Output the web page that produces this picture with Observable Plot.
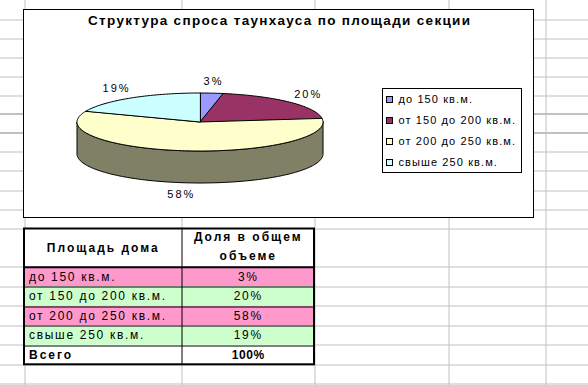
<!DOCTYPE html>
<html><head><meta charset="utf-8">
<script src="https://cdn.jsdelivr.net/npm/d3@7"></script>
<script src="https://cdn.jsdelivr.net/npm/@observablehq/plot@0.6"></script>
<style>
body{margin:0;background:#fff;}
svg{display:block;}
</style></head><body><div id="chart"></div>
<script>
// ---- data ----
const title = "Структура спроса таунхауса по площади секции";
const categories = ["до 150 кв.м.", "от 150 до 200 кв.м.", "от 200 до 250 кв.м.", "свыше 250 кв.м."];
const shares = [3, 20, 58, 19];
const tableHeader = ["Площадь дома", "Доля в общем", "объеме"];
const totalLabel = "Всего";
const totalValue = 100;

// ---- styles ----
const sliceColors = ["#9999FF", "#993366", "#FFFFCC", "#CCFFFF"];
const rowFills = ["#FF99CC", "#CCFFCC", "#FF99CC", "#CCFFCC"];
const gridColor = "#C0C0C0";
const FONT = "Liberation Sans, Arial, sans-serif";

// ---- layout ----
const W = 588, H = 385;
const gridX = [24.5, 181.5, 314.5, 448.5, 545.5];
const gridY = [19.5, 38.5, 57.5, 76.5, 95.5, 113.5, 132.5, 151.5, 170.5, 190.5, 209.5, 228.5, 266.5, 286.5, 305.5, 325.5, 344.5, 364.5, 383.5];
const gridThick = [113.5, 132.5];
const area = {x1: 23.5, x2: 533.5, y1: 9.5, y2: 217.5};
const pie = {cx: 199.5, cy: 121.5, rx: 123, ry: 29, depth: 32, lx: 12, ly: 7.5};
const legend = {x1: 382.5, x2: 521.5, y1: 88.5, y2: 172.5, step: 21.2, sw: 6, swX: 386, textX: 398};
const table = {x1: 24, xm: 181.5, x2: 314, y1: 228.5, headH: 38.3, rowH: 19.5};

// ---- pie geometry ----
const total = d3.sum(shares);
let acc = 0;
const slices = shares.map((v, i) => {
  const a0 = acc / total * 2 * Math.PI; acc += v;
  const a1 = acc / total * 2 * Math.PI;
  return {i, v, a0, a1, color: sliceColors[i]};
});
const pt = (t, dy = 0) => [pie.cx + pie.rx * Math.sin(t), pie.cy - pie.ry * Math.cos(t) + dy];
function arcPts(a0, a1, dy = 0) {
  const n = Math.max(2, Math.ceil((a1 - a0) / (Math.PI / 120)));
  return d3.range(n + 1).map(k => pt(a0 + (a1 - a0) * k / n, dy));
}
const darker = c => { const r = d3.rgb(c); return d3.rgb(r.r / 2, r.g / 2, r.b / 2).formatHex(); };
const poly = (pts, fill) => Plot.line(pts, {x: d => d[0], y: d => d[1], curve: "linear-closed", fill, stroke: "#000", strokeWidth: 1, strokeLinejoin: "miter"});

const sideMarks = [];
slices.forEach(s => {
  const s0 = Math.max(s.a0, Math.PI / 2), s1 = Math.min(s.a1, 3 * Math.PI / 2);
  if (s1 > s0) sideMarks.push(poly([...arcPts(s0, s1), ...arcPts(s0, s1, pie.depth).reverse()], darker(s.color)));
});
const topMarks = slices.map(s => poly([[pie.cx, pie.cy], ...arcPts(s.a0, s.a1)], s.color));

const labels = slices.map(s => {
  const m = (s.a0 + s.a1) / 2;
  const txt = s.v + "%";
  const hw = txt.length * 4.5;
  const front = Math.cos(m) < 0 ? pie.depth : 0;
  return {
    text: txt,
    x: pie.cx + (pie.rx + pie.lx + hw) * Math.sin(m),
    y: pie.cy - (pie.ry + pie.ly + 4) * Math.cos(m) + front
  };
});

// ---- table geometry ----
const rowTop = i => table.y1 + table.headH + i * table.rowH;
const rows = categories.map((c, i) => ({label: c, value: shares[i] + "%", fill: rowFills[i], top: rowTop(i)}));
const totalTop = rowTop(categories.length);
const tableBottom = totalTop + table.rowH;

const svg = Plot.plot({
  width: W, height: H, margin: 0,
  x: {domain: [0, W], range: [0, W], axis: null},
  y: {domain: [0, H], range: [0, H], axis: null},
  color: {type: "identity"},
  style: {fontFamily: FONT, background: "white", color: "black"},
  marks: [
    // spreadsheet grid
    Plot.ruleY(gridY, {y: d => d, stroke: gridColor, strokeWidth: d => gridThick.includes(d) ? 2 : 1}),
    Plot.ruleX(gridX, {x: d => d, stroke: gridColor, strokeWidth: 1}),
    // chart area
    Plot.rect([area], {x1: "x1", x2: "x2", y1: "y1", y2: "y2", fill: "white", stroke: "black", strokeWidth: 1}),
    Plot.text([title], {x: (area.x1 + area.x2) / 2, y: 20.5, text: d => d, fontWeight: "bold", fontSize: 13.5, fontFamily: FONT, fill: "black", ariaDescription: "title"}),
    // pie
    ...sideMarks,
    ...topMarks,
    Plot.text(labels, {x: "x", y: "y", text: "text", fontSize: 11, fontFamily: FONT, fill: "black", ariaDescription: "pielabels"}),
    // legend
    Plot.rect([legend], {x1: "x1", x2: "x2", y1: "y1", y2: "y2", fill: "white", stroke: "black", strokeWidth: 1}),
    Plot.rect(categories, {
      x1: legend.swX + 0.5, x2: legend.swX + 0.5 + legend.sw,
      y1: (d, i) => Math.round((legend.y1 + legend.y2) / 2 + (i - (categories.length - 1) / 2) * legend.step - legend.sw / 2) + 0.5,
      y2: (d, i) => Math.round((legend.y1 + legend.y2) / 2 + (i - (categories.length - 1) / 2) * legend.step - legend.sw / 2) + 0.5 + legend.sw,
      fill: (d, i) => sliceColors[i], stroke: "black", strokeWidth: 1
    }),
    Plot.text(categories, {
      x: legend.textX, y: (d, i) => (legend.y1 + legend.y2) / 2 + (i - (categories.length - 1) / 2) * legend.step,
      text: d => d, textAnchor: "start", fontSize: 11, fontFamily: FONT, fill: "black", ariaDescription: "legendtext"
    }),
    // table cells
    Plot.rect([0], {x1: table.x1, x2: table.x2, y1: table.y1, y2: tableBottom, fill: "white"}),
    Plot.rect(rows, {x1: table.x1, x2: table.x2, y1: "top", y2: d => d.top + table.rowH, fill: "fill"}),
    // table inner lines
    Plot.ruleY(rows.slice(1).map(r => r.top).concat([totalTop]), {y: d => Math.round(d) + 0.5, x1: table.x1, x2: table.x2, stroke: "black", strokeWidth: 1}),
    Plot.ruleY([table.y1 + table.headH], {y: d => d, x1: table.x1, x2: table.x2, stroke: "black", strokeWidth: 2}),
    Plot.ruleX([table.xm], {x: d => d, y1: table.y1, y2: tableBottom, stroke: "black", strokeWidth: 1}),
    Plot.rect([0], {x1: table.x1, x2: table.x2, y1: table.y1, y2: tableBottom, fill: "none", stroke: "black", strokeWidth: 2}),
    // table text
    Plot.text([tableHeader[0]], {x: (table.x1 + table.xm) / 2, y: table.y1 + table.headH / 2, text: d => d, fontWeight: "bold", fontSize: 12, fontFamily: FONT, fill: "black", ariaDescription: "thead"}),
    Plot.text(tableHeader.slice(1), {x: (table.xm + table.x2) / 2, y: (d, i) => table.y1 + table.headH / 2 - 1.5 + (i - 0.5) * 18.3, text: d => d, fontWeight: "bold", fontSize: 12, fontFamily: FONT, fill: "black", ariaDescription: "thead"}),
    Plot.text(rows, {x: table.x1 + 4.5, y: d => d.top + table.rowH / 2, text: "label", textAnchor: "start", fontSize: 12, fontFamily: FONT, fill: "black", ariaDescription: "tbody"}),
    Plot.text(rows, {x: (table.xm + table.x2) / 2, y: d => d.top + table.rowH / 2, text: "value", fontSize: 12, fontFamily: FONT, fill: "black", ariaDescription: "tbody"}),
    Plot.text([totalLabel], {x: table.x1 + 4.5, y: totalTop + table.rowH / 2, text: d => d, textAnchor: "start", fontWeight: "bold", fontSize: 12, fontFamily: FONT, fill: "black", ariaDescription: "thead"}),
    Plot.text([totalValue + "%"], {x: (table.xm + table.x2) / 2, y: totalTop + table.rowH / 2, text: d => d, fontWeight: "bold", fontSize: 12, fontFamily: FONT, fill: "black", ariaDescription: "ttotal"})
  ]
});

const sel = d3.select(svg);
const grp = name => sel.selectAll(`g[aria-description="${name}"] text`);
grp("title").attr("textLength", 382).attr("lengthAdjust", "spacing");
grp("pielabels").style("letter-spacing", "2px");
grp("legendtext").style("letter-spacing", "1.1px");
grp("tbody").style("letter-spacing", "1.7px");
grp("thead").style("letter-spacing", "2px");
grp("ttotal").style("letter-spacing", "0.6px");
document.getElementById("chart").appendChild(svg);
</script></body></html>
